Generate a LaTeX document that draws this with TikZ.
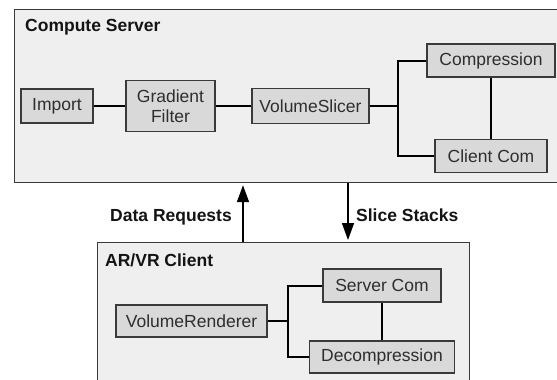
\documentclass[tikz,border=0pt]{standalone}
\usepackage{fontspec}
\setmainfont{Liberation Sans}
\usetikzlibrary{arrows.meta}
\definecolor{panelfill}{HTML}{EFEFEF}
\definecolor{blockfill}{HTML}{D9D9D9}
\definecolor{edgegray}{HTML}{3A3A3A}
\definecolor{textgray}{HTML}{2E2E2E}
\tikzset{
  panel/.style={draw=edgegray, line width=1.2pt, fill=panelfill, inner sep=0pt},
  block/.style={draw=edgegray, line width=1.6pt, fill=blockfill, inner sep=0pt,
    font=\fontsize{17.5}{20}\selectfont, text=textgray, align=center},
  link/.style={line width=2pt, black},
  title/.style={font=\bfseries\fontsize{17.5}{20}\selectfont, text=black!92, inner sep=0pt},
  flow/.style={line width=1.6pt, black, shorten >=2pt, -{Triangle[length=17pt,width=12pt]}},
}
\begin{document}
\begin{tikzpicture}[x=1pt,y=-1pt]
\useasboundingbox (0,0) rectangle (557,380);
\fill[white] (0,0) rectangle (557,380);

% the two machines
\node[panel, anchor=north west, minimum width=551pt, minimum height=173pt] (server) at (14,9) {};
\node[panel, anchor=north west, minimum width=372pt, minimum height=150pt] (client) at (97,242) {};
\node[title, anchor=base west] (servertitle) at (25,31) {Compute Server};
\node[title, anchor=base west] (clienttitle) at (105,266) {AR/VR Client};

% compute server pipeline
\node[block, minimum width=72pt, minimum height=34pt] (import) at (57,106) {Import};
\node[block, minimum width=89pt, minimum height=51pt] (gradient) at (170.5,106) {Gradient\\Filter};
\node[block, minimum width=117pt, minimum height=35pt] (slicer) at (310.5,106) {VolumeSlicer};
\node[block, minimum width=128pt, minimum height=33pt] (compress) at (491,60.5) {Compression};
\node[block, minimum width=112pt, minimum height=33pt] (clientcom) at (491,156) {Client Com};

\coordinate (sbus) at (398,106);
\draw[link] (import.east) -- (gradient.west);
\draw[link] (gradient.east) -- (slicer.west);
\draw[link] (slicer.east) -- (sbus);
\draw[link] (compress.west) -| (sbus) |- (clientcom.west);
\draw[link] (compress.south) -- (clientcom.north);

% client pipeline
\node[block, minimum width=151pt, minimum height=32pt] (renderer) at (191.5,321) {VolumeRenderer};
\node[block, minimum width=118pt, minimum height=33pt] (servercom) at (382,285.5) {Server Com};
\node[block, minimum width=145pt, minimum height=32pt] (decomp) at (382,357) {Decompression};

\coordinate (cbus) at (288,321);
\draw[link] (renderer.east) -- (cbus);
\draw[link] (servercom.west) -| (cbus) |- (decomp.west);
\draw[link] (servercom.south) -- (decomp.north);

% traffic between the machines
\coordinate (upx) at (243,0);
\coordinate (downx) at (348,0);
\draw[flow] (upx |- client.north) -- (upx |- server.south);
\draw[flow] (downx |- server.south) -- (downx |- client.north);
\node[title, anchor=base east] (reqlabel) at (232,221) {Data Requests};
\node[title, anchor=base west] (slicelabel) at (356,221) {Slice Stacks};
\end{tikzpicture}
\end{document}
